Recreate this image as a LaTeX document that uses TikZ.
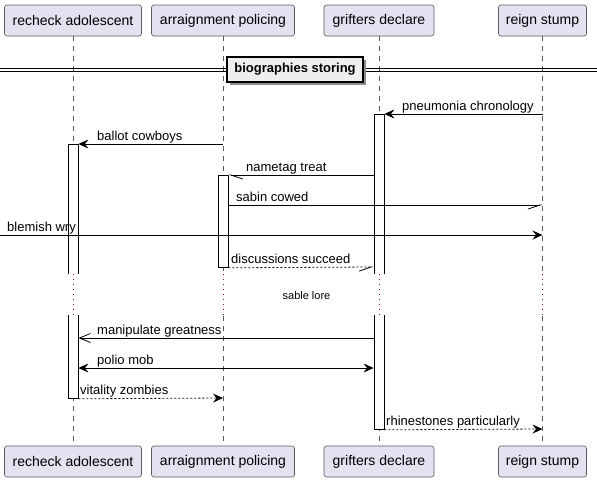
\documentclass[tikz,border=0pt]{standalone}
\usepackage{fontspec}
\setmainfont{Liberation Sans}
\usepackage{tikz}
\usetikzlibrary{positioning}
\usetikzlibrary{arrows.meta}
\definecolor{partfill}{HTML}{E2E2F0}
\definecolor{partline}{HTML}{5A5A5A}
\definecolor{delaycol}{HTML}{A80036}
\definecolor{divfill}{HTML}{EEEEEE}
\tikzstyle{participant} = [draw=partline, fill=partfill, rounded corners=2.5pt, line width=0.6pt, minimum height=31pt, inner sep=0pt, font=\fontsize{14}{16}\selectfont]
\tikzstyle{lifeline} = [draw=partline, line width=0.6pt, dash pattern=on 5pt off 5pt]
\tikzstyle{bar} = [draw=black, fill=white, line width=0.8pt, minimum width=10pt, inner sep=0pt, anchor=north]
\tikzstyle{msg} = [line width=0.8pt, black]
\tikzstyle{full} = [-{Stealth[length=10pt, width=9pt, inset=3.5pt]}]
\tikzstyle{barb} = [-{Straight Barb[length=11pt, width=9pt]}]
\tikzstyle{halfbarb} = [-{Straight Barb[left, length=12pt, width=8pt]}]
\tikzstyle{halfbarbr} = [-{Straight Barb[right, length=12pt, width=8pt]}]
\tikzstyle{lbl} = [anchor=base west, inner sep=0pt, font=\fontsize{13}{15}\selectfont]

\begin{document}
\begin{tikzpicture}[x=1pt, y=-1pt]
  \useasboundingbox (0,0) rectangle (597,482);

  % participants
  \node[participant, minimum width=137pt] (ra) at (73,20.5) {recheck adolescent};
  \node[participant, minimum width=143pt] (ap) at (223,20.5) {arraignment policing};
  \node[participant, minimum width=110pt] (gd) at (379,20.5) {grifters declare};
  \node[participant, minimum width=88pt] (rs) at (542.5,20.5) {reign stump};
  \node[participant, minimum width=137pt] (raB) at (73,461.5) {recheck adolescent};
  \node[participant, minimum width=143pt] (apB) at (223,461.5) {arraignment policing};
  \node[participant, minimum width=110pt] (gdB) at (379,461.5) {grifters declare};
  \node[participant, minimum width=88pt] (rsB) at (542.5,461.5) {reign stump};

  % rows
  \coordinate (r1) at (0,114);
  \coordinate (r2) at (0,144);
  \coordinate (r3) at (0,175);
  \coordinate (r4) at (0,205);
  \coordinate (r5) at (0,235);
  \coordinate (r6) at (0,267);
  \coordinate (r7) at (0,338);
  \coordinate (r8) at (0,368);
  \coordinate (r9) at (0,398);
  \coordinate (r10) at (0,429);
  \coordinate (d1) at (0,274);
  \coordinate (d2) at (0,315);

  % lifelines
  \draw[lifeline] (ra.south) -- (raB.north);
  \draw[lifeline] (ap.south) -- (apB.north);
  \draw[lifeline] (gd.south) -- (gdB.north);
  \draw[lifeline] (rs.south) -- (rsB.north);

  % activations
  \node[bar, minimum height=254pt] (raBar) at (ra |- r2) {};
  \node[bar, minimum height=92pt] (apBar) at (ap |- r3) {};
  \node[bar, minimum height=315pt] (gdBar) at (gd |- r1) {};

  % divider
  \draw[line width=0.8pt] (0,68.5) -- (597,68.5);
  \draw[line width=0.8pt] (0,71.5) -- (597,71.5);
  \fill[black!45] (230,60) rectangle (366,85);
  \node[draw=black, fill=divfill, line width=1.5pt, minimum width=136pt, minimum height=25pt, inner sep=0pt, font=\bfseries\fontsize{13}{15}\selectfont] (div) at (295,69.5) {biographies storing};

  % delay
  \fill[white] (d1) rectangle (597,315);
  \draw[delaycol, line width=0.8pt, dash pattern=on 0.8pt off 4.2pt] (ra |- d1) -- (ra |- d2);
  \draw[delaycol, line width=0.8pt, dash pattern=on 0.8pt off 4.2pt] (ap |- d1) -- (ap |- d2);
  \draw[delaycol, line width=0.8pt, dash pattern=on 0.8pt off 4.2pt] (gd |- d1) -- (gd |- d2);
  \draw[delaycol, line width=0.8pt, dash pattern=on 0.8pt off 4.2pt] (rs |- d1) -- (rs |- d2);
  \node[font=\fontsize{11}{13}\selectfont, inner sep=0pt] (delay) at (306.5,295.5) {sable lore};

  % messages
  \draw[msg, full] (rs |- r1) -- (gdBar.north east);
  \node[lbl] (t1) at (402,110) {pneumonia chronology};
  \draw[msg, full] (ap |- r2) -- (raBar.north east);
  \node[lbl] (t2) at (97,140) {ballot cowboys};
  \draw[msg, halfbarb] (gdBar.west |- r3) -- (apBar.north east);
  \node[lbl] (t3) at (246,171) {nametag treat};
  \draw[msg, halfbarbr] (apBar.east |- r4) -- (rs |- r4);
  \node[lbl] (t4) at (236,201) {sabin cowed};
  \draw[msg, full] (r5) -- (rs |- r5);
  \node[lbl] (t5) at (7,231) {blemish wry};
  \draw[msg, halfbarbr, dash pattern=on 2pt off 2pt] (apBar.south east) -- (gdBar.west |- r6);
  \node[lbl] (t6) at (231,263) {discussions succeed};
  \draw[msg, barb] (gdBar.west |- r7) -- (raBar.east |- r7);
  \node[lbl] (t7) at (97,334) {manipulate greatness};
  \draw[msg, {Stealth[length=10pt, width=9pt, inset=3.5pt]}-{Stealth[length=10pt, width=9pt, inset=3.5pt]}] (raBar.east |- r8) -- (gdBar.west |- r8);
  \node[lbl] (t8) at (97,364) {polio mob};
  \draw[msg, full, dash pattern=on 2pt off 2pt] (raBar.south east) -- (ap |- r9);
  \node[lbl] (t9) at (80,394) {vitality zombies};
  \draw[msg, full, dash pattern=on 2pt off 2pt] (gdBar.south east) -- (rs |- r10);
  \node[lbl] (t10) at (386,425) {rhinestones particularly};
\end{tikzpicture}
\end{document}
